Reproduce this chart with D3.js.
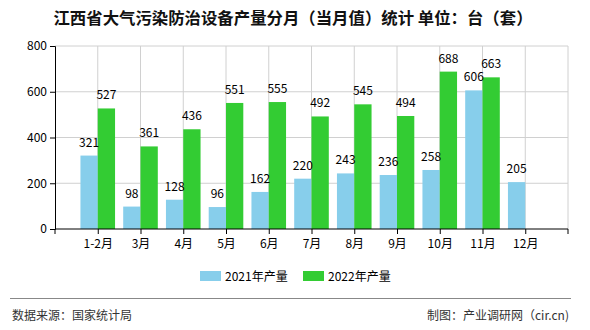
<!DOCTYPE html>
<html><head><meta charset="utf-8">
<script src="https://cdn.jsdelivr.net/npm/d3@7/dist/d3.min.js"></script>
<style>
body{margin:0;background:#fff;}
text{font-family:"Noto Sans CJK SC","Noto Sans",sans-serif;}
</style></head>
<body><svg id="c" width="590" height="330"></svg>
<script>
const categories = ["1-2月","3月","4月","5月","6月","7月","8月","9月","10月","11月","12月"];
const values2021 = [321,98,128,96,162,220,243,236,258,606,205];
const values2022 = [527,361,436,551,555,492,545,494,688,663,null];
const seriesNames = ["2021年产量","2022年产量"];
const colors = ["#87CEEB","#33CC33"];
const yTicks = [0,200,400,600,800];

const svg = d3.select("#c");
const L=55,R=568,T=46,B=229;
const x = d3.scalePoint().domain(categories).range([L,R]).padding(1);
const y = d3.scaleLinear().domain([0,800]).range([B,T]);
const bw = 17.3;

// title
svg.append("text").attr("x",293).attr("y",24).attr("text-anchor","middle")
  .attr("font-size",16.4).attr("font-weight","bold").attr("fill","#111")
  .text("江西省大气污染防治设备产量分月（当月值）统计 单位：台（套）");

// grid
const g = svg.append("g");
g.selectAll(".hg").data(yTicks.filter(d=>d>0)).join("line")
  .attr("x1",L).attr("x2",R).attr("y1",d=>y(d)).attr("y2",d=>y(d))
  .attr("stroke","#d0d0d0").attr("stroke-width",1);
g.selectAll(".vg").data(categories).join("line")
  .attr("x1",d=>x(d)).attr("x2",d=>x(d)).attr("y1",T).attr("y2",B)
  .attr("stroke","#d0d0d0");
g.append("line").attr("x1",R).attr("x2",R).attr("y1",T).attr("y2",B).attr("stroke","#d0d0d0");

// bars
const series = [values2021, values2022];
series.forEach((vals,si)=>{
  const data = categories.map((c,i)=>({c,v:vals[i]})).filter(d=>d.v!=null);
  svg.append("g").selectAll("rect").data(data).join("rect")
    .attr("x",d=>si===0 ? x(d.c)-bw : x(d.c))
    .attr("y",d=>y(d.v)).attr("width",bw).attr("height",d=>B-y(d.v))
    .attr("fill",colors[si]);
});
series.forEach((vals,si)=>{
  const data = categories.map((c,i)=>({c,v:vals[i]})).filter(d=>d.v!=null);
  svg.append("g").selectAll("text").data(data).join("text")
    .attr("x",d=>si===0 ? x(d.c)-bw/2 : x(d.c)+bw/2)
    .attr("y",d=>y(d.v)-9).attr("text-anchor","middle")
    .attr("font-size",12).attr("fill","#000").text(d=>d.v);
});

// axes
const ya = svg.append("g").attr("transform",`translate(${L},0)`)
  .call(d3.axisLeft(y).tickValues(yTicks).tickSize(5).tickPadding(3));
ya.select(".domain").attr("stroke","#000");
ya.selectAll("text").attr("font-size",12).attr("fill","#000");
const xa = svg.append("g").attr("transform",`translate(0,${B})`)
  .call(d3.axisBottom(x).tickSize(5).tickPadding(5).tickSizeOuter(5));
xa.select(".domain").attr("d",`M${L},5V0H${R}V5`).attr("stroke","#000");
xa.selectAll("text").attr("font-size",12).attr("fill","#000");

// legend
const lg = svg.append("g");
const lx=[200,303];
seriesNames.forEach((n,i)=>{
  lg.append("rect").attr("x",lx[i]).attr("y",271).attr("width",21).attr("height",10).attr("fill",colors[i]);
  lg.append("text").attr("x",lx[i]+25).attr("y",280.5).attr("font-size",12).attr("fill","#000").text(n);
});

// footer
svg.append("line").attr("x1",10).attr("x2",571).attr("y1",298.5).attr("y2",298.5).attr("stroke","#888").attr("stroke-width",1);
svg.append("text").attr("x",12).attr("y",320).attr("font-size",12).attr("fill","#333").text("数据来源：国家统计局");
svg.append("text").attr("x",569).attr("y",320).attr("text-anchor","end").attr("font-size",12).attr("fill","#333").text("制图：产业调研网（cir.cn)");
</script></body></html>
